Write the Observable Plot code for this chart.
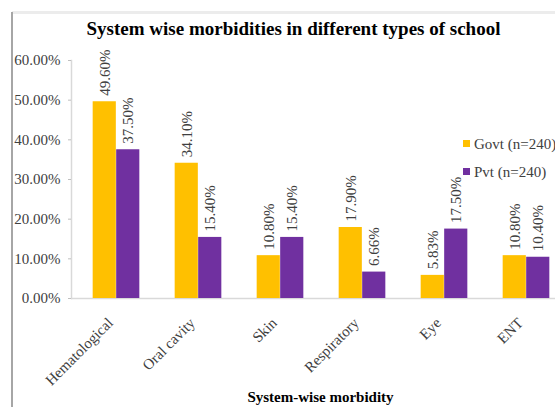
<!DOCTYPE html>
<html>
<head>
<meta charset="utf-8">
<script src="https://cdn.jsdelivr.net/npm/d3@7"></script>
<script src="https://cdn.jsdelivr.net/npm/@observablehq/plot@0.6"></script>
<style>
  html, body { margin: 0; padding: 0; background: #fff; }
  #wrap { position: relative; width: 555px; height: 407px; overflow: hidden; background: #fff; font-family: "Liberation Serif", "Times New Roman", serif; }
  #chart { position: absolute; left: 0; top: 0; width: 570px; height: 407px; }
  #chart svg { max-width: none !important; width: 570px !important; height: 407px !important; font-family: "Liberation Serif", serif !important; }
  #chart svg text { font-family: "Liberation Serif", serif; }
  .border-left { position: absolute; left: 11px; top: 12px; width: 1.5px; height: 400px; background: #a6a6a6; }
  .border-top { position: absolute; left: 12px; top: 11px; width: 545px; height: 3px; background: #ececec; }
  #title { position: absolute; left: 0; width: 587px; top: 18px; text-align: center; font-weight: bold; font-size: 19px; color: #000; white-space: nowrap; }
  #xtitle { position: absolute; left: 0; width: 641px; top: 389px; text-align: center; font-weight: bold; font-size: 15px; color: #000; white-space: nowrap; }
  .leg { position: absolute; left: 463px; font-size: 15px; color: #404040; white-space: nowrap; line-height: 15px; }
  .leg span.sw { display: inline-block; width: 7px; height: 7px; margin-right: 4px; vertical-align: 2px; }
</style>
</head>
<body>
<div id="wrap">
  <div class="border-top"></div>
  <div class="border-left"></div>
  <div id="chart"></div>
  <div id="title"></div>
  <div id="xtitle"></div>
  <div id="legend"></div>
</div>
<script>
const titleText = "System wise morbidities in different types of school";
const xAxisTitle = "System-wise morbidity";
const categories = ["Hematological", "Oral cavity", "Skin", "Respiratory", "Eye", "ENT"];
const seriesNames = ["Govt (n=240)", "Pvt (n=240)"];
const seriesColors = ["#FFC000", "#7030A0"];
const govtValues = [0.496, 0.341, 0.108, 0.179, 0.0583, 0.108];
const pvtValues = [0.375, 0.154, 0.154, 0.0666, 0.175, 0.104];
const yTicks = [0, 0.1, 0.2, 0.3, 0.4, 0.5, 0.6];

const govt = categories.map((c, i) => ({category: c, value: govtValues[i]}));
const pvt = categories.map((c, i) => ({category: c, value: pvtValues[i]}));
const fmt = d3.format(".2%");

const half = 41.17, barW = 23.5;

const plot = Plot.plot({
  width: 570,
  height: 407,
  marginTop: 60,
  marginBottom: 109,
  marginLeft: 71,
  marginRight: 0,
  style: {fontFamily: "Liberation Serif, serif", fontSize: "15px", color: "#404040", background: "transparent", overflow: "visible", maxWidth: "none"},
  x: {domain: categories, paddingInner: 0, paddingOuter: 0.03},
  y: {domain: [0, 0.6]},
  marks: [
    Plot.ruleY([0], {stroke: "#d9d9d9", strokeWidth: 1.5}),
    Plot.frame({anchor: "left", stroke: "#d9d9d9", strokeWidth: 1.5}),
    Plot.axisY({ticks: yTicks, tickFormat: fmt, tickSize: 3, tickPadding: 8, stroke: "#bfbfbf", fill: "#404040", label: null, fontSize: 15}),
    Plot.axisX({tickRotate: -45, tickSize: 0, tickPadding: 22, dx: -6, fill: "#404040", label: null, fontSize: 15}),
    Plot.barY(govt, {x: "category", y: "value", fill: seriesColors[0], insetLeft: half - barW, insetRight: half}),
    Plot.barY(pvt, {x: "category", y: "value", fill: seriesColors[1], insetLeft: half, insetRight: half - barW}),
    Plot.text(govt, {x: "category", y: "value", text: d => fmt(d.value), rotate: -90, textAnchor: "start", dx: -barW / 2, dy: -6, fill: "#404040", fontSize: 15}),
    Plot.text(pvt, {x: "category", y: "value", text: d => fmt(d.value), rotate: -90, textAnchor: "start", dx: barW / 2, dy: -6, fill: "#404040", fontSize: 15})
  ]
});
document.getElementById("chart").appendChild(plot);
document.getElementById("title").textContent = titleText;
document.getElementById("xtitle").textContent = xAxisTitle;

const legend = document.getElementById("legend");
seriesNames.forEach((name, i) => {
  const d = document.createElement("div");
  d.className = "leg";
  d.style.top = (137 + i * 28) + "px";
  const sw = document.createElement("span");
  sw.className = "sw";
  sw.style.background = seriesColors[i];
  d.appendChild(sw);
  d.appendChild(document.createTextNode(name));
  legend.appendChild(d);
});
</script>
</body>
</html>
